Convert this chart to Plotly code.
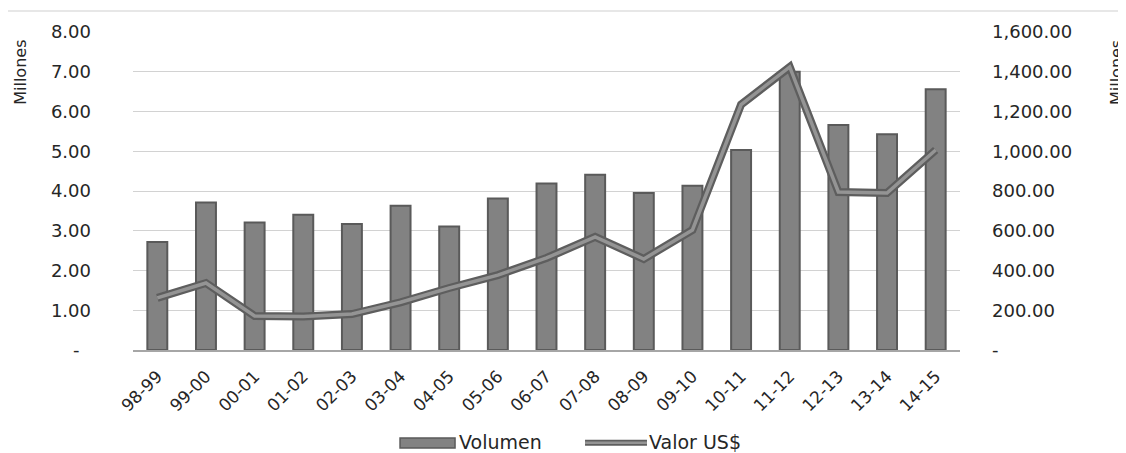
import plotly.graph_objects as go

categories = ["98-99", "99-00", "00-01", "01-02", "02-03", "03-04", "04-05", "05-06",
              "06-07", "07-08", "08-09", "09-10", "10-11", "11-12", "12-13", "13-14", "14-15"]
volumen = [2.72, 3.71, 3.21, 3.40, 3.17, 3.63, 3.11, 3.81, 4.19, 4.41, 3.95, 4.13,
           5.03, 7.00, 5.66, 5.43, 6.56]
valor = [262, 337, 171, 168, 181, 240, 312, 377, 463, 569, 458, 604,
         1235, 1424, 795, 790, 1006]

left_ticks = [0, 1, 2, 3, 4, 5, 6, 7, 8]
left_text = ["-\u00a0\u00a0", "1.00", "2.00", "3.00", "4.00", "5.00", "6.00", "7.00", "8.00"]
right_ticks = [0, 200, 400, 600, 800, 1000, 1200, 1400, 1600]
right_text = ["-", "200.00", "400.00", "600.00", "800.00", "1,000.00", "1,200.00", "1,400.00", "1,600.00"]
legend_names = ["Volumen", "Valor US$"]

font_family = "DejaVu Sans"
txt = "#262626"
bar_fill = "#828282"
bar_edge = "#5a5a5a"
line_outer = "#5e5e5e"
line_inner = "#949494"

fig = go.Figure()
fig.add_trace(go.Bar(
    x=categories, y=volumen, name=legend_names[0], width=0.41, showlegend=False,
    marker=dict(color=bar_fill, line=dict(color=bar_edge, width=2)),
    yaxis="y"))
fig.add_trace(go.Scatter(
    x=categories, y=valor, mode="lines", showlegend=False, hoverinfo="skip",
    line=dict(color=line_outer, width=8), yaxis="y2"))
fig.add_trace(go.Scatter(
    x=categories, y=valor, mode="lines", name=legend_names[1], showlegend=False,
    line=dict(color=line_inner, width=3.5), yaxis="y2"))

# page has an 8px body margin: figure is offset by 8px right and down
fig.update_layout(
    width=1118, height=445,
    margin=dict(l=125, r=166, t=24, b=103),
    paper_bgcolor="white", plot_bgcolor="white",
    font=dict(family=font_family, size=17, color=txt),
    showlegend=False,
    xaxis=dict(type="category", tickangle=-45, tickfont=dict(size=17, color=txt), showgrid=False,
               showline=True, linecolor="#a6a6a6", linewidth=1.5, ticks="",
               ticklabelstandoff=8, automargin=False),
    yaxis=dict(range=[0, 8], tickvals=left_ticks, ticktext=left_text,
               showgrid=True, gridcolor="#d2d2d2", gridwidth=1.2, zeroline=False,
               ticks="", ticklabelstandoff=41, tickfont=dict(size=18, color=txt),
               automargin=False),
    yaxis2=dict(range=[0, 1600], tickvals=right_ticks, ticktext=right_text,
                overlaying="y", side="right", showgrid=False, zeroline=False,
                ticks="", ticklabelstandoff=31, tickfont=dict(size=18, color=txt),
                automargin=False),
    shapes=[
        dict(type="line", xref="paper", yref="paper", x0=-0.157, x1=1.2,
             y0=1.066, y1=1.066, line=dict(color="#cfcfcf", width=1)),
        # legend swatches
        dict(type="rect", xref="paper", yref="paper", x0=0.3229, x1=0.3894,
             y0=-0.308, y1=-0.277, fillcolor=bar_fill, line=dict(color=bar_edge, width=1.5)),
        dict(type="line", xref="paper", yref="paper", x0=0.5466, x1=0.6215,
             y0=-0.292, y1=-0.292, line=dict(color=line_outer, width=6)),
        dict(type="line", xref="paper", yref="paper", x0=0.5466, x1=0.6215,
             y0=-0.292, y1=-0.292, line=dict(color=line_inner, width=2.5)),
    ],
    annotations=[
        dict(text="Millones", xref="paper", yref="paper", x=-0.137, y=0.874,
             textangle=-90, showarrow=False, font=dict(size=16, color=txt),
             xanchor="center", yanchor="middle"),
        dict(text="Millones", xref="paper", yref="paper", x=1.1886, y=0.874,
             textangle=-90, showarrow=False, font=dict(size=16, color=txt),
             xanchor="center", yanchor="middle"),
        dict(text=legend_names[0], xref="paper", yref="paper", x=0.392, y=-0.29,
             showarrow=False, font=dict(size=19, color=txt), xanchor="left", yanchor="middle"),
        dict(text=legend_names[1], xref="paper", yref="paper", x=0.621, y=-0.29,
             showarrow=False, font=dict(size=19, color=txt), xanchor="left", yanchor="middle"),
    ],
)

fig.write_html("out.html")
